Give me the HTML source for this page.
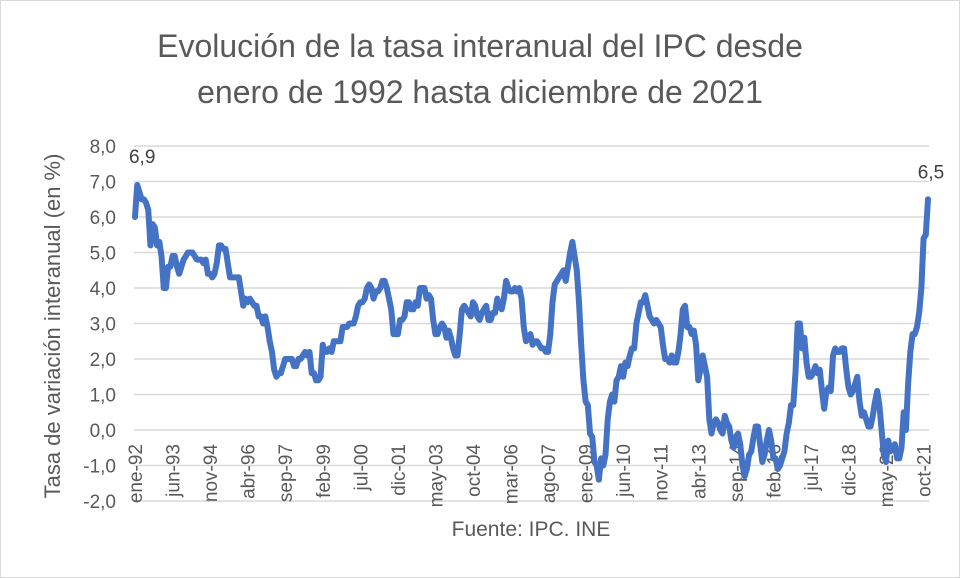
<!DOCTYPE html>
<html><head><meta charset="utf-8"><style>
body{margin:0;background:#fff}
#wrap{position:relative;width:958px;height:576px;border:1px solid #d9d9d9;background:#fff;font-family:"Liberation Sans",sans-serif;color:#595959;overflow:hidden}
.t{position:absolute;left:0;width:958px;text-align:center;font-size:32px}
</style></head><body>
<div id="wrap">
<div class="t" style="top:27px">Evolución de la tasa interanual del IPC desde</div>
<div class="t" style="top:73px">enero de 1992 hasta diciembre de 2021</div>
<svg id="svg" width="958" height="576" style="position:absolute;left:0;top:0"></svg>
</div>
<script>
const yTicks=[8,7,6,5,4,3,2,1,0,-1,-2];
const xLabels=["ene-92","jun-93","nov-94","abr-96","sep-97","feb-99","jul-00","dic-01","may-03","oct-04","mar-06","ago-07","ene-09","jun-10","nov-11","abr-13","sep-14","feb-16","jul-17","dic-18","may-20","oct-21"];
const ipc=[
6.0,6.9,6.7,6.5,6.5,6.4,6.2,5.2,5.8,5.7,5.2,5.3,
4.9,4.0,4.0,4.6,4.6,4.9,4.9,4.6,4.4,4.6,4.8,4.9,
5.0,5.0,5.0,4.9,4.8,4.8,4.8,4.7,4.8,4.4,4.4,4.3,
4.4,4.7,5.2,5.2,5.1,5.1,4.7,4.3,4.3,4.3,4.3,4.3,
3.9,3.5,3.7,3.6,3.7,3.6,3.5,3.5,3.2,3.2,3.0,3.2,
2.9,2.5,2.2,1.7,1.5,1.6,1.6,1.8,2.0,2.0,2.0,2.0,
1.8,1.8,2.0,2.0,2.1,2.2,2.1,2.2,1.6,1.6,1.4,1.4,
1.5,2.4,2.2,2.2,2.3,2.2,2.5,2.5,2.5,2.5,2.9,2.9,
2.9,3.0,3.0,3.0,3.2,3.5,3.6,3.6,3.7,4.0,4.1,4.0,
3.7,3.9,3.9,4.0,4.2,4.2,4.0,3.7,3.4,2.7,2.7,2.7,
3.1,3.1,3.2,3.6,3.6,3.4,3.4,3.6,3.5,4.0,4.0,4.0,
3.7,3.8,3.7,3.1,2.7,2.7,2.9,3.0,2.9,2.6,2.8,2.6,
2.3,2.1,2.1,2.7,3.4,3.5,3.4,3.3,3.2,3.6,3.5,3.2,
3.1,3.3,3.4,3.5,3.1,3.1,3.3,3.3,3.7,3.5,3.4,3.7,
4.2,4.0,3.9,3.9,4.0,3.9,4.0,3.7,2.9,2.5,2.6,2.7,
2.4,2.5,2.5,2.4,2.3,2.3,2.2,2.2,2.7,3.6,4.1,4.2,
4.3,4.4,4.5,4.2,4.6,5.0,5.3,4.9,4.5,3.6,2.4,1.4,
0.8,0.7,-0.1,-0.2,-0.9,-1.0,-1.4,-0.8,-1.0,-0.7,0.3,0.8,
1.0,0.8,1.4,1.5,1.8,1.5,1.9,1.8,2.1,2.3,2.3,3.0,
3.3,3.6,3.6,3.8,3.5,3.2,3.1,3.0,3.1,3.0,2.9,2.4,
2.0,2.0,1.9,2.1,1.9,1.9,2.2,2.7,3.4,3.5,2.9,2.9,
2.7,2.8,2.4,1.4,1.7,2.1,1.8,1.5,0.3,-0.1,0.2,0.3,
0.2,0.0,-0.1,0.4,0.2,0.1,-0.3,-0.5,-0.2,-0.1,-0.4,-1.0,
-1.3,-1.1,-0.7,-0.6,-0.2,0.1,0.1,-0.4,-0.9,-0.7,-0.3,0.0,
-0.3,-0.8,-0.8,-1.1,-1.0,-0.8,-0.6,-0.1,0.2,0.7,0.7,1.6,
3.0,3.0,2.3,2.6,1.9,1.5,1.5,1.6,1.8,1.6,1.7,1.1,
0.6,1.1,1.2,1.1,2.1,2.3,2.2,2.2,2.3,2.3,1.7,1.2,
1.0,1.1,1.3,1.5,0.8,0.4,0.5,0.3,0.1,0.1,0.4,0.8,
1.1,0.7,0.0,-0.7,-0.9,-0.3,-0.6,-0.5,-0.4,-0.8,-0.8,-0.5,
0.5,0.0,1.3,2.2,2.7,2.7,2.9,3.3,4.0,5.4,5.5,6.5];
const labelStep=17;
const NS="http://www.w3.org/2000/svg";
const svg=document.getElementById('svg');
const X0=134,X1=927,Y8=145,Ym2=500;
const xs=i=>X0+(X1-X0)*i/(ipc.length-1);
const ys=v=>Y8+(8-v)*(Ym2-Y8)/10;
function mk(t,a){const e=document.createElementNS(NS,t);for(const k in a)e.setAttribute(k,a[k]);svg.appendChild(e);return e;}
yTicks.forEach(v=>{
 const g=mk('line',{x1:133,x2:928,y1:ys(v),y2:ys(v),stroke:'#d9d9d9','stroke-width':1.5});
 
 
 const t=mk('text',{x:115,y:ys(v)+7,'text-anchor':'end','font-size':19,fill:'#595959'});
 t.textContent=v.toFixed(1).replace('.',',');
 
 
});
xLabels.forEach((l,i)=>{
 const x=xs(i*labelStep);
 const t=mk('text',{x:0,y:0,'text-anchor':'end','font-size':19,fill:'#595959',transform:`translate(${x+7},443) rotate(-90)`});
 t.textContent=l;
 
 
});
const p=mk('path',{d:ipc.map((v,i)=>(i?'L':'M')+xs(i).toFixed(2)+' '+ys(v).toFixed(2)).join(''),fill:'none',stroke:'#4472C4','stroke-width':6,'stroke-linejoin':'round','stroke-linecap':'round'});


let mi=0;for(let i=0;i<24;i++)if(ipc[i]>ipc[mi])mi=i;
const l1=mk('text',{x:xs(mi)+5,y:ys(ipc[mi])-22,'text-anchor':'middle','font-size':19,fill:'#404040'});
l1.textContent=ipc[mi].toFixed(1).replace('.',',');


const li=ipc.length-1;
const l2=mk('text',{x:xs(li)+3,y:ys(ipc[li])-21,'text-anchor':'middle','font-size':19,fill:'#404040'});
l2.textContent=ipc[li].toFixed(1).replace('.',',');


const yt=mk('text',{x:0,y:0,'text-anchor':'middle','font-size':22,fill:'#595959',transform:'translate(59,325) rotate(-90)'});
yt.textContent='Tasa de variación interanual (en %)';


const src=mk('text',{x:530,y:535,'text-anchor':'middle','font-size':21,fill:'#595959'});
src.textContent='Fuente: IPC. INE';


</script>
</body></html>
